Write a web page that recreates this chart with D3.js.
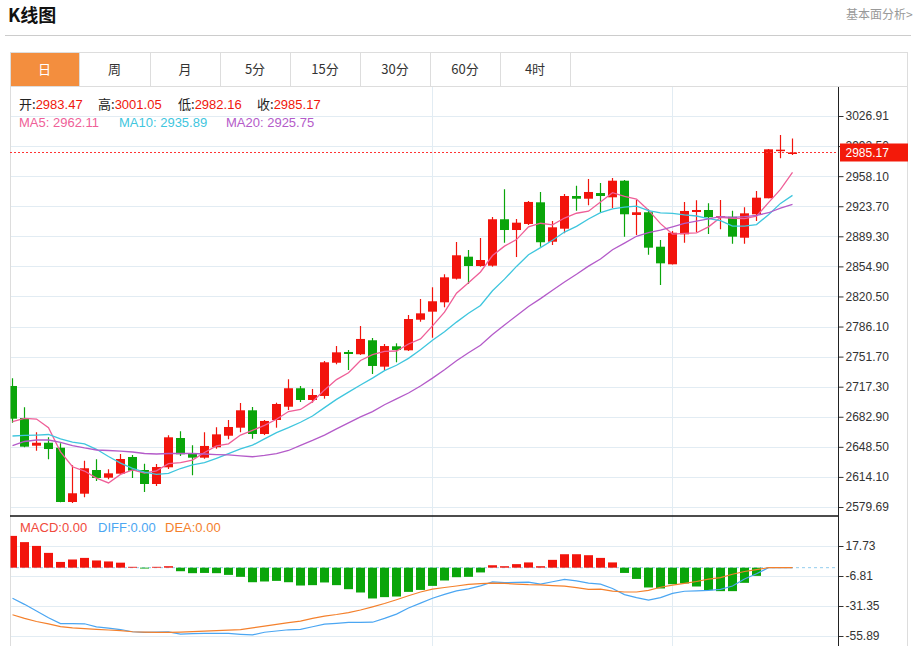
<!DOCTYPE html>
<html>
<head>
<meta charset="utf-8">
<title>K线图</title>
<script src="https://cdnjs.cloudflare.com/ajax/libs/d3/7.8.5/d3.min.js"></script>
<style>
  body { margin: 0; background: #fff; }
  svg text { font-family: "Liberation Sans", Arial, "Noto Sans CJK SC", sans-serif; }
</style>
</head>
<body>
<svg id="chart" width="915" height="646"></svg>
<script>
/*global d3 */

// daily candles
var opens = [2718.1, 2681.5, 2649.8, 2653.2, 2647.5, 2585.4, 2594.9, 2622.0, 2613.2, 2617.8,
  2636.9, 2622.0, 2606.0, 2625.1, 2658.6, 2641.1, 2636.1, 2648.0, 2661.2, 2670.4,
  2690.3, 2663.2, 2679.2, 2694.4, 2715.5, 2702.1, 2706.7, 2744.7, 2757.0, 2754.4,
  2770.4, 2740.2, 2763.5, 2758.9, 2793.9, 2803.1, 2813.8, 2840.8, 2866.0, 2855.3,
  2855.7, 2908.8, 2896.5, 2903.4, 2928.2, 2883.1, 2898.0, 2935.4, 2932.3, 2938.8,
  2933.9, 2952.9, 2913.7, 2916.8, 2877.4, 2857.3, 2891.6, 2917.1, 2919.4, 2910.6,
  2911.7, 2887.7, 2914.5, 2932.8, 2987.2, 2983.47];
var highs = [2726.9, 2693.7, 2665.1, 2659.4, 2652.6, 2627.4, 2632.7, 2634.3, 2622.8, 2640.3,
  2639.2, 2629.2, 2628.9, 2661.7, 2666.3, 2650.3, 2665.1, 2670.9, 2679.2, 2698.7,
  2694.1, 2679.2, 2699.0, 2725.8, 2718.1, 2714.7, 2746.7, 2763.8, 2759.3, 2786.7,
  2773.0, 2766.1, 2766.9, 2799.3, 2817.6, 2831.0, 2845.9, 2882.8, 2873.7, 2887.4,
  2911.4, 2943.1, 2909.1, 2929.7, 2940.0, 2906.8, 2937.7, 2947.2, 2954.9, 2950.3,
  2956.0, 2953.7, 2930.8, 2920.2, 2885.1, 2895.4, 2928.6, 2930.5, 2927.1, 2930.8,
  2918.6, 2922.5, 2941.1, 2989.2, 3005.2, 3001.05];
var lows = [2676.1, 2648.0, 2644.1, 2634.3, 2585.1, 2584.3, 2590.8, 2609.4, 2611.4, 2616.6,
  2612.9, 2596.9, 2603.7, 2623.2, 2638.0, 2616.0, 2634.9, 2646.4, 2657.1, 2665.1,
  2657.8, 2662.0, 2670.4, 2690.6, 2699.8, 2699.0, 2703.6, 2742.9, 2736.4, 2753.6,
  2731.8, 2736.4, 2745.2, 2758.1, 2791.6, 2773.3, 2808.1, 2839.9, 2834.8, 2854.6,
  2854.6, 2882.0, 2865.6, 2902.2, 2877.4, 2879.4, 2892.8, 2918.6, 2924.8, 2917.1,
  2921.7, 2888.9, 2890.8, 2868.3, 2833.6, 2857.1, 2882.0, 2894.2, 2892.0, 2897.3,
  2880.9, 2880.9, 2906.8, 2932.8, 2978.5, 2982.16];
var closes = [2680.7, 2648.7, 2653.2, 2646.0, 2585.4, 2595.4, 2624.0, 2612.9, 2618.2, 2634.6,
  2621.2, 2606.0, 2625.4, 2659.4, 2640.0, 2636.1, 2649.5, 2662.8, 2671.2, 2690.3,
  2663.2, 2678.1, 2697.5, 2715.5, 2702.1, 2707.8, 2745.2, 2756.6, 2754.7, 2771.9,
  2741.0, 2763.8, 2759.3, 2794.7, 2801.2, 2815.0, 2842.4, 2867.6, 2855.3, 2862.2,
  2908.8, 2896.5, 2904.9, 2928.6, 2882.5, 2899.6, 2935.4, 2932.3, 2940.0, 2935.4,
  2952.9, 2914.5, 2916.8, 2876.3, 2858.4, 2893.4, 2918.3, 2919.4, 2911.1, 2912.2,
  2888.9, 2915.6, 2933.5, 2988.8, 2988.4, 2985.17];

// MA values before a full window exists (they depend on earlier days)
var ma5Head = [2677.3, 2681.1, 2680.3, 2670.4];
var ma10Head = [2660.9, 2661.5, 2662.0, 2662.6, 2657.5, 2654.0, 2651.8, 2645.7, 2637.5];
var ma20Head = [2650.0, 2654.6, 2656.3, 2656.3, 2653.5, 2650.0, 2647.2, 2644.9, 2644.3, 2643.7,
  2642.6, 2640.9, 2640.3, 2640.9, 2640.9, 2640.9, 2640.3, 2639.7, 2639.2];
var maLegend = [2962.11, 2935.89, 2925.75];

// MACD panel
var macdHist = [26.0, 20.9, 17.8, 12.1, 4.7, 6.7, 8.0, 5.9, 5.1, 4.1,
  0.7, -0.7, 0.7, 1.2, -2.9, -4.5, -4.3, -4.5, -5.9, -7.5,
  -11.9, -11.3, -10.8, -11.9, -14.6, -14.3, -12.1, -14.3, -17.6, -20.3,
  -25.2, -24.1, -23.6, -19.8, -18.2, -14.9, -10.5, -7.8, -7.5, -3.9,
  2.0, 1.2, 2.9, 4.3, 1.2, 6.4, 11.0, 11.0, 10.2, 8.0,
  4.3, -4.3, -9.2, -16.2, -17.0, -13.5, -12.9, -15.4, -18.4, -19.2,
  -19.2, -12.4, -6.7, 0, 0, 0];
var diffVals = [-25.0, -30.0, -35.5, -41.0, -45.7, -45.7, -45.9, -48.4, -49.5, -50.6,
  -52.4, -53.0, -52.8, -52.5, -54.4, -54.0, -53.8, -53.8, -53.8, -54.5,
  -55.0, -52.8, -51.8, -50.8, -50.5, -48.3, -46.2, -45.5, -44.8, -44.8,
  -44.6, -41.5, -38.0, -33.0, -29.0, -25.0, -21.8, -19.0, -17.3, -14.9,
  -11.6, -12.2, -12.0, -11.8, -13.5, -11.5, -9.6, -10.8, -12.6, -13.5,
  -17.0, -22.0, -24.5, -26.6, -24.5, -21.0, -19.3, -19.0, -18.6, -17.8,
  -15.0, -9.3, -5.0, 0, 0, 0];
var deaVals = [-38.5, -41.5, -44.0, -46.0, -48.2, -49.3, -49.8, -50.4, -51.0, -51.5,
  -52.4, -52.7, -53.0, -53.0, -52.7, -52.3, -51.9, -51.5, -51.1, -50.6,
  -49.2, -47.8, -46.4, -45.0, -43.7, -41.5, -39.6, -38.3, -36.7, -34.6,
  -32.0, -29.3, -26.2, -23.0, -19.9, -17.6, -16.2, -15.0, -13.7, -13.0,
  -12.6, -12.8, -13.4, -13.9, -14.1, -14.7, -15.1, -16.3, -17.7, -17.6,
  -19.2, -19.9, -19.9, -18.5, -16.0, -14.3, -12.8, -11.3, -9.4, -8.2,
  -5.4, -3.1, -1.6, 0, 0, 0];
var macdLegend = [0, 0, 0];

// axis ticks and misc labels
var priceTicks = [2579.69, 2614.10, 2648.50, 2682.90, 2717.30, 2751.70, 2786.10, 2820.50,
  2854.90, 2889.30, 2923.70, 2958.10, 2992.50, 3026.91];
var macdTicks = [17.73, -6.81, -31.35, -55.89];
var tabs = ["日", "周", "月", "5分", "15分", "30分", "60分", "4时"];
var tabEdges = [10, 79, 150, 220, 290, 360, 430, 500, 570];
var gridIdx = [35, 55];

var RED = "#f2140c", GREEN = "#0aa50a";
var C_MA5 = "#ef5f98", C_MA10 = "#3fc6de", C_MA20 = "#b45bc9";
var C_DIFF = "#4ba6f2", C_DEA = "#f4802c";
var GRID = "#e2ecf3";

var svg = d3.select("#chart");
var L = 10, R = 838, TOP = 87, SPLIT = 516, BOTTOM = 646;

// ---------- header ----------
svg.append("text")
  .attr("x", 8).attr("y", 22)
  .attr("font-size", 18).attr("font-weight", "bold")
  .style("font-family", "'Noto Sans CJK SC', sans-serif")
  .attr("fill", "#111")
  .text("K线图");

svg.append("text")
  .attr("x", 846).attr("y", 19)
  .attr("font-size", 12).attr("fill", "#999")
  .style("font-family", "'Noto Sans CJK SC', sans-serif")
  .text("基本面分析>");

svg.append("line")
  .attr("x1", 5).attr("x2", 911).attr("y1", 35.5).attr("y2", 35.5)
  .attr("stroke", "#ccc");

// ---------- tabs ----------
svg.append("rect")
  .attr("x", tabEdges[0]).attr("y", 52)
  .attr("width", tabEdges[1] - tabEdges[0]).attr("height", 35)
  .attr("fill", "#f38e3e");

svg.append("rect")
  .attr("x", 10.5).attr("y", 52.5).attr("width", 897).attr("height", 34)
  .attr("fill", "none").attr("stroke", "#ddd");

svg.selectAll(".tab-sep")
  .data(tabEdges.slice(1))
  .enter().append("line")
  .attr("class", "tab-sep")
  .attr("x1", function (d) { return d + 0.5; })
  .attr("x2", function (d) { return d + 0.5; })
  .attr("y1", 52).attr("y2", 87)
  .attr("stroke", "#ddd");

svg.selectAll(".tab-label")
  .data(tabs)
  .enter().append("text")
  .attr("class", "tab-label")
  .attr("x", function (d, i) { return (tabEdges[i] + tabEdges[i + 1]) / 2; })
  .attr("y", 74)
  .attr("text-anchor", "middle")
  .attr("font-size", 13)
  .style("font-family", "'Noto Sans CJK SC', sans-serif")
  .attr("fill", function (d, i) { return i === 0 ? "#fff" : "#333"; })
  .text(function (d) { return d; });

// ---------- scales ----------
var x = d3.scaleLinear().domain([0, closes.length - 1]).range([12.5, 12.5 + 12 * (closes.length - 1)]);
var yPrice = d3.scaleLinear().domain([2579.69, 3026.91]).range([507, 116]);
var yMacd = d3.scaleLinear().domain([-55.89, 17.73]).range([636, 546]);

var defs = svg.append("defs");
defs.append("clipPath").attr("id", "clip-price")
  .append("rect").attr("x", L + 0.5).attr("y", TOP).attr("width", R - L).attr("height", SPLIT - TOP);
defs.append("clipPath").attr("id", "clip-macd")
  .append("rect").attr("x", L + 0.5).attr("y", SPLIT).attr("width", R - L).attr("height", BOTTOM - SPLIT);

// ---------- grid ----------
var grid = svg.append("g");
grid.selectAll(".hp")
  .data(priceTicks)
  .enter().append("line")
  .attr("x1", L).attr("x2", R)
  .attr("y1", function (d) { return Math.round(yPrice(d)) + 0.5; })
  .attr("y2", function (d) { return Math.round(yPrice(d)) + 0.5; })
  .attr("stroke", GRID);
grid.selectAll(".hm")
  .data(macdTicks)
  .enter().append("line")
  .attr("x1", L).attr("x2", R)
  .attr("y1", function (d) { return Math.round(yMacd(d)) + 0.5; })
  .attr("y2", function (d) { return Math.round(yMacd(d)) + 0.5; })
  .attr("stroke", GRID);
grid.selectAll(".v")
  .data(gridIdx)
  .enter().append("line")
  .attr("x1", function (d) { return x(d); })
  .attr("x2", function (d) { return x(d); })
  .attr("y1", TOP).attr("y2", BOTTOM)
  .attr("stroke", GRID);

// frame
svg.append("line").attr("x1", L + 0.5).attr("x2", L + 0.5).attr("y1", TOP).attr("y2", BOTTOM).attr("stroke", "#ddd");
svg.append("line").attr("x1", 907.5).attr("x2", 907.5).attr("y1", TOP).attr("y2", BOTTOM).attr("stroke", "#ddd");

// ---------- candles ----------
var idx = d3.range(closes.length);
var price = svg.append("g").attr("clip-path", "url(#clip-price)");

function candleColor(i) { return closes[i] >= opens[i] ? RED : GREEN; }

price.selectAll(".wick")
  .data(idx)
  .enter().append("line")
  .attr("class", "wick")
  .attr("x1", function (i) { return x(i); })
  .attr("x2", function (i) { return x(i); })
  .attr("y1", function (i) { return yPrice(highs[i]); })
  .attr("y2", function (i) { return yPrice(lows[i]); })
  .attr("stroke", candleColor)
  .attr("stroke-width", 1.2);

price.selectAll(".body")
  .data(idx)
  .enter().append("rect")
  .attr("class", "body")
  .attr("x", function (i) { return x(i) - 4.5; })
  .attr("width", 9)
  .attr("y", function (i) { return yPrice(Math.max(opens[i], closes[i])); })
  .attr("height", function (i) {
    return Math.max(1.5, Math.abs(yPrice(opens[i]) - yPrice(closes[i])));
  })
  .attr("fill", candleColor);

// ---------- moving averages ----------
function movingAvg(n, head) {
  return closes.map(function (c, i) {
    if (i < n - 1) return head[i];
    return d3.mean(closes.slice(i - n + 1, i + 1));
  });
}

var maLine = d3.line()
  .x(function (d, i) { return x(i); })
  .y(function (d) { return yPrice(d); });

[[movingAvg(5, ma5Head), C_MA5], [movingAvg(10, ma10Head), C_MA10], [movingAvg(20, ma20Head), C_MA20]]
  .forEach(function (m) {
    price.append("path")
      .datum(m[0])
      .attr("d", maLine)
      .attr("fill", "none")
      .attr("stroke", m[1])
      .attr("stroke-width", 1.3);
  });

// last price marker
var last = closes[closes.length - 1];
svg.append("line")
  .attr("x1", L).attr("x2", R)
  .attr("y1", Math.round(yPrice(last)) + 0.5).attr("y2", Math.round(yPrice(last)) + 0.5)
  .attr("stroke", "#f33").attr("stroke-dasharray", "2,2");

// ---------- price axis ----------
var priceAxis = svg.append("g")
  .attr("transform", "translate(" + (R + 0.5) + ",0)")
  .call(d3.axisRight(yPrice)
    .tickValues(priceTicks)
    .tickFormat(function (d) { return d.toFixed(2); })
    .tickSize(5)
    .tickPadding(2));
priceAxis.select(".domain").remove();
priceAxis.selectAll("text").attr("font-size", 12).attr("fill", "#333")
  .style("font-family", "'Liberation Sans', Arial, sans-serif");
priceAxis.selectAll("line").attr("stroke", "#333");

svg.append("rect")
  .attr("x", 840).attr("y", yPrice(last) - 9)
  .attr("width", 68).attr("height", 18)
  .attr("fill", "#f31a0a");
svg.append("text")
  .attr("x", 845.5).attr("y", yPrice(last) + 4.5)
  .attr("font-size", 12).attr("fill", "#fff")
  .text(last.toFixed(2));

// ---------- info rows ----------
var info = [["开:", opens], ["高:", highs], ["低:", lows], ["收:", closes]];
var infoX = [19, 98, 178, 257];
info.forEach(function (d, k) {
  var t = svg.append("text")
    .attr("x", infoX[k]).attr("y", 108.5)
    .attr("font-size", 13);
  t.append("tspan").attr("fill", "#222").style("font-family", "'Noto Sans CJK SC', sans-serif").text(d[0]);
  t.append("tspan").attr("fill", "#f0170c").text(d[1][d[1].length - 1].toFixed(2));
});

var maNames = ["MA5: ", "MA10: ", "MA20: "];
var maColors = [C_MA5, C_MA10, C_MA20];
var maX = [19, 119, 226];
maNames.forEach(function (n, k) {
  svg.append("text")
    .attr("x", maX[k]).attr("y", 127)
    .attr("font-size", 13)
    .attr("fill", maColors[k])
    .text(n + maLegend[k].toFixed(2));
});

// ---------- MACD panel ----------
var macd = svg.append("g").attr("clip-path", "url(#clip-macd)");

macd.append("line")
  .attr("x1", L).attr("x2", R)
  .attr("y1", yMacd(0)).attr("y2", yMacd(0))
  .attr("stroke", "#93cdee").attr("stroke-dasharray", "3,3");

macd.selectAll(".bar")
  .data(idx.filter(function (i) { return macdHist[i] !== 0; }))
  .enter().append("rect")
  .attr("class", "bar")
  .attr("x", function (i) { return x(i) - 4.5; })
  .attr("width", 9)
  .attr("y", function (i) { return Math.min(yMacd(macdHist[i]), yMacd(0)); })
  .attr("height", function (i) { return Math.abs(yMacd(macdHist[i]) - yMacd(0)); })
  .attr("fill", function (i) { return macdHist[i] >= 0 ? RED : GREEN; });

var macdLine = d3.line()
  .x(function (d, i) { return x(i); })
  .y(function (d) { return yMacd(d); });

[[diffVals, C_DIFF], [deaVals, C_DEA]].forEach(function (m) {
  macd.append("path")
    .datum(m[0])
    .attr("d", macdLine)
    .attr("fill", "none")
    .attr("stroke", m[1])
    .attr("stroke-width", 1.2);
});

var macdAxis = svg.append("g")
  .attr("transform", "translate(" + (R + 0.5) + ",0)")
  .call(d3.axisRight(yMacd)
    .tickValues(macdTicks)
    .tickFormat(function (d) { return d.toFixed(2); })
    .tickSize(5)
    .tickPadding(2));
macdAxis.select(".domain").remove();
macdAxis.selectAll("text").attr("font-size", 12).attr("fill", "#333")
  .style("font-family", "'Liberation Sans', Arial, sans-serif");
macdAxis.selectAll("line").attr("stroke", "#333");

var macdNames = ["MACD:", "DIFF:", "DEA:"];
var macdColors = ["#f04a3c", C_DIFF, C_DEA];
var macdX = [20, 98, 165];
macdNames.forEach(function (n, k) {
  svg.append("text")
    .attr("x", macdX[k]).attr("y", 532)
    .attr("font-size", 13)
    .attr("fill", macdColors[k])
    .text(n + macdLegend[k].toFixed(2));
});

// axis line and panel split
svg.append("line").attr("x1", R + 0.5).attr("x2", R + 0.5).attr("y1", TOP).attr("y2", BOTTOM).attr("stroke", "#222");
svg.append("line").attr("x1", L).attr("x2", R).attr("y1", SPLIT).attr("y2", SPLIT)
  .attr("stroke", "#111").attr("stroke-width", 1.5);
</script>
</body>
</html>
